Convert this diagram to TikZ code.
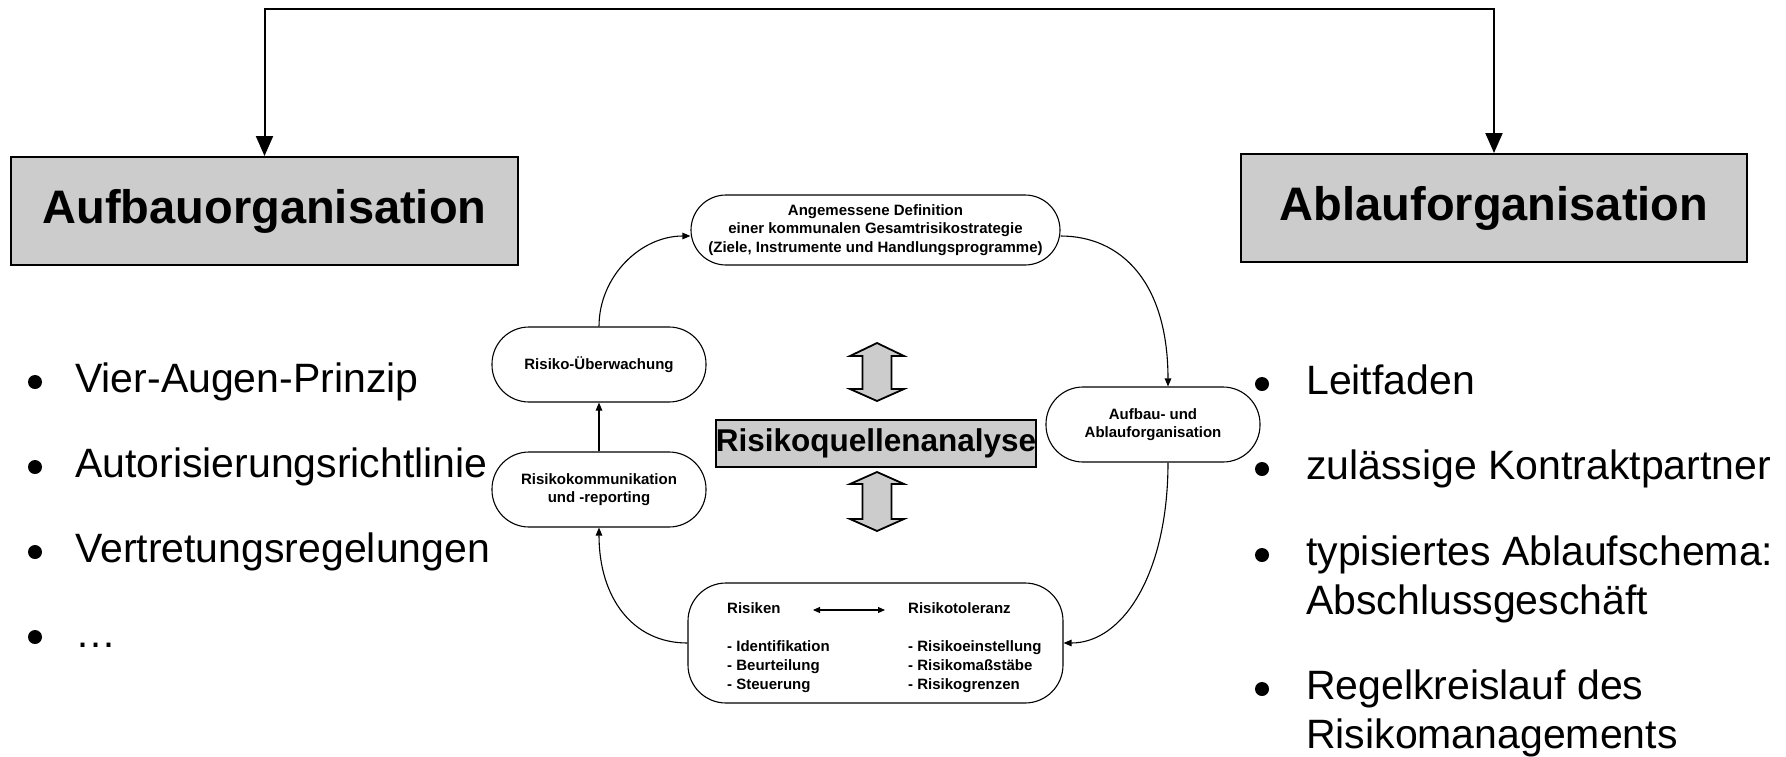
\documentclass[tikz,border=0pt]{standalone}
\usepackage{fontspec}
\setmainfont{Liberation Sans}
\usetikzlibrary{arrows.meta}
\definecolor{boxgray}{HTML}{CCCCCC}
\begin{document}
\begin{tikzpicture}[x=1pt,y=-1pt,
  bigbox/.style={draw, line width=2pt, fill=boxgray, inner sep=0pt,
    font=\fontsize{47}{56}\selectfont\bfseries},
  cyc/.style={draw, line width=1.1pt, inner sep=0pt, align=center,
    font=\fontsize{15}{18.5}\selectfont\bfseries},
  small/.style={inner sep=0pt, anchor=base west, font=\fontsize{15}{18.5}\selectfont\bfseries},
  bullettext/.style={inner sep=0pt, anchor=base west, font=\fontsize{41}{49}\selectfont},
  dot/.style={circle, fill=black, inner sep=0pt, minimum size=14pt},
  flow/.style={line width=1.1pt, -{Triangle[width=6.5pt,length=8pt]}},
  dbl/.style={line width=1.1pt, {Triangle[width=6pt,length=7pt]}-{Triangle[width=6pt,length=7pt]}},
  toparrow/.style={line width=2pt, {Triangle[width=17pt,length=20pt]}-{Triangle[width=17pt,length=20pt]}},
  blockarrow/.style={draw, fill=boxgray, line width=1.8pt, line join=miter}
]
\useasboundingbox (0,0) rectangle (1786,756);

% top boxes
\node[bigbox, minimum width=507pt, minimum height=108pt] (aufbau) at (264.5,211) {Aufbauorganisation};
\node[bigbox, minimum width=506pt, minimum height=108pt] (ablauf) at (1494,208) {Ablauforganisation};
\coordinate (tl) at (264.5,9);
\coordinate (tr) at (1494,9);
\draw[toparrow] (aufbau.north) -- (tl) -- (tr) -- (ablauf.north);

% cycle nodes
\node[cyc, minimum width=369pt, minimum height=70pt, rounded corners=35pt] (top) at (875.5,230)
  {Angemessene Definition\\einer kommunalen Gesamtrisikostrategie\\(Ziele, Instrumente und Handlungsprogramme)};
\node[cyc, minimum width=214pt, minimum height=75pt, rounded corners=37pt] (ueber) at (599,364.5) {Risiko-Überwachung};
\node[cyc, minimum width=214pt, minimum height=75pt, rounded corners=37pt] (komm) at (599,489.5) {Risikokommunikation\\und -reporting};
\node[cyc, minimum width=214pt, minimum height=75pt, rounded corners=37pt] (aufab) at (1153,424.5) {Aufbau- und\\Ablauforganisation};
\node[cyc, minimum width=375pt, minimum height=120pt, rounded corners=38pt] (bottom) at (875.5,643) {};

% bottom node contents
\node[small] (ris) at (727,613) {Risiken};
\node[small] (tol) at (908,613) {Risikotoleranz};
\node[small] (r1) at (727,651) {- Identifikation};
\node[small] (r2) at (727,670) {- Beurteilung};
\node[small] (r3) at (727,689) {- Steuerung};
\node[small] (t1) at (908,651) {- Risikoeinstellung};
\node[small] (t2) at (908,670) {- Risikomaßstäbe};
\node[small] (t3) at (908,689) {- Risikogrenzen};
\coordinate (da) at (813,610);
\coordinate (db) at (885,610);
\draw[dbl] (da) -- (db);

% cycle connectors
\draw[flow] (ueber.north) .. controls +(0,-50) and +(-50,0) .. ([yshift=-6pt]top.west);
\draw[flow] ([yshift=-6pt]top.east) .. controls +(60,0) and +(0,-105) .. ([xshift=15pt]aufab.north);
\draw[flow] ([xshift=15pt]aufab.south) .. controls +(0,110) and +(60,0) .. (bottom.east);
\draw[flow] (bottom.west) .. controls +(-55,0) and +(0,70) .. (komm.south);
\draw[flow] (komm.north) -- (ueber.south);

% central box and block arrows
\node[draw, line width=2pt, fill=boxgray, inner sep=0pt, minimum width=320pt, minimum height=47pt,
  font=\fontsize{31.5}{38}\selectfont\bfseries] (rqa) at (876,443) {Risikoquellenanalyse};
\draw[blockarrow] (877,343) -- (904,356) -- (891.5,356) -- (891.5,389) -- (904,389) -- (877,401)
  -- (850,389) -- (862.5,389) -- (862.5,356) -- (850,356) -- cycle;
\draw[blockarrow] (877,472) -- (904,484) -- (891.5,484) -- (891.5,519) -- (904,519) -- (877,531)
  -- (850,519) -- (862.5,519) -- (862.5,484) -- (850,484) -- cycle;

% left bullets
\node[dot] (lb1) at (35,382) {};
\node[dot] (lb2) at (35,467) {};
\node[dot] (lb3) at (35,552) {};
\node[dot] (lb4) at (35,637) {};
\node[bullettext] (l1) at (75,392) {Vier-Augen-Prinzip};
\node[bullettext] (l2) at (75,477) {Autorisierungsrichtlinie};
\node[bullettext] (l3) at (75,562) {Vertretungsregelungen};
\node[bullettext] (l4) at (75,647) {…};

% right bullets
\node[dot] (rb1) at (1262,384) {};
\node[dot] (rb2) at (1262,469) {};
\node[dot] (rb3) at (1262,555) {};
\node[dot] (rb4) at (1262,689) {};
\node[bullettext] (rt1) at (1306,394) {Leitfaden};
\node[bullettext] (rt2) at (1306,479) {zulässige Kontraktpartner};
\node[bullettext] (rt3) at (1306,565) {typisiertes Ablaufschema:};
\node[bullettext] (rt3b) at (1306,614) {Abschlussgeschäft};
\node[bullettext] (rt4) at (1306,699) {Regelkreislauf des};
\node[bullettext] (rt4b) at (1306,748) {Risikomanagements};
\end{tikzpicture}
\end{document}
